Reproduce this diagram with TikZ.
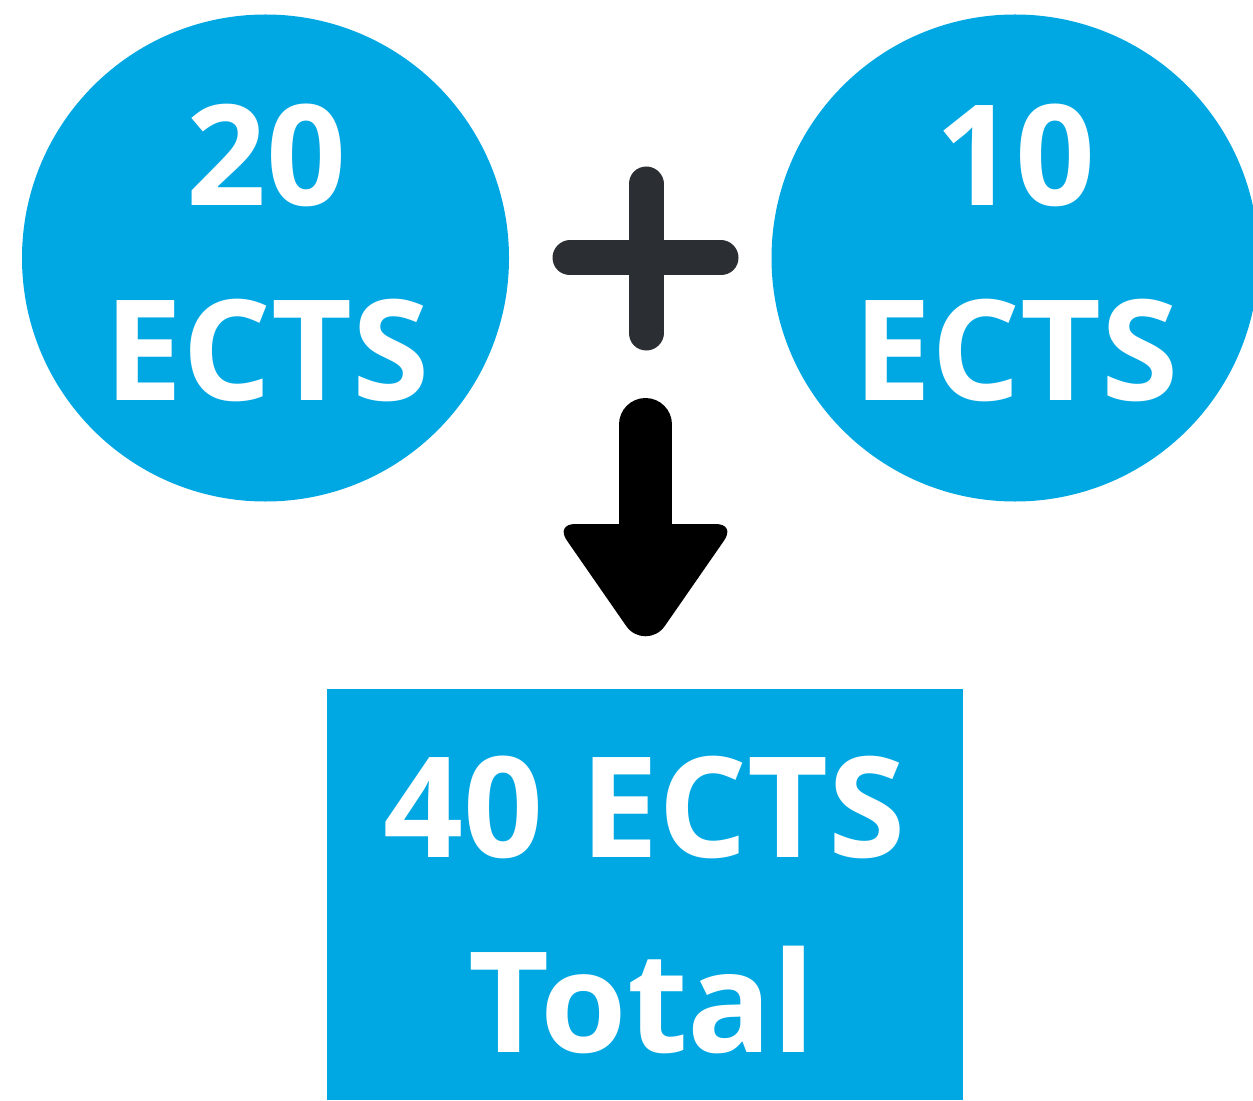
\documentclass[tikz,border=0pt]{standalone}
\usepackage{fontspec}
\setmainfont{Open Sans}[BoldFont={Open Sans Bold}]
\usepackage{xcolor}
\usetikzlibrary{positioning}
\definecolor{ectsblue}{HTML}{00A8E3}
\definecolor{plusgray}{HTML}{2B2F33}
\tikzset{
  credit/.style={circle,fill=ectsblue,minimum size=487*0.02cm,inner sep=0pt},
  bigtext/.style={text=white,anchor=base,inner sep=0pt,
    font=\fontsize{79.7}{111}\selectfont\bfseries},
}

\begin{document}
\begin{tikzpicture}[x=0.02cm,y=-0.02cm]
  \clip (0,0) rectangle (1253,1101);
  % Circles
  \node[credit] (c20) at (265.5,258) {};
  \node[credit] (c10) at (1015,258) {};
  \node[bigtext] (n20) at (266,206) {20};
  \node[bigtext] (e20) at (267,400) {ECTS};
  \node[bigtext] (n10) at (1015,206) {10};
  \node[bigtext] (e10) at (1016,400) {ECTS};

  % Plus
  \draw[plusgray,line width=35*0.02cm,line cap=round] (646,184) -- (646,333);
  \draw[plusgray,line width=35*0.02cm,line cap=round] (570,258) -- (721,258);

  % Arrow down
  \draw[black,line width=53*0.02cm,line cap=round] (645.5,424.5) -- (645.5,540);
  \fill[black] (575.5,524) -- (715.5,524)
    .. controls (727,524) and (730.7,531) .. (724.1,540.5) -- (664.8,626)
    .. controls (655.3,639.7) and (635.7,639.7) .. (626.2,626) -- (566.9,540.5)
    .. controls (560.3,531) and (564,524) .. (575.5,524) -- cycle;

  % Total
  \node[fill=ectsblue,minimum width=636*0.02cm,minimum height=411*0.02cm,
    inner sep=0pt] (total) at (645,894.5) {};
  \node[bigtext] (t40) at (645,857) {40 ECTS};
  \node[bigtext] (ttot) at (642,1052) {Total};
\end{tikzpicture}
\end{document}
